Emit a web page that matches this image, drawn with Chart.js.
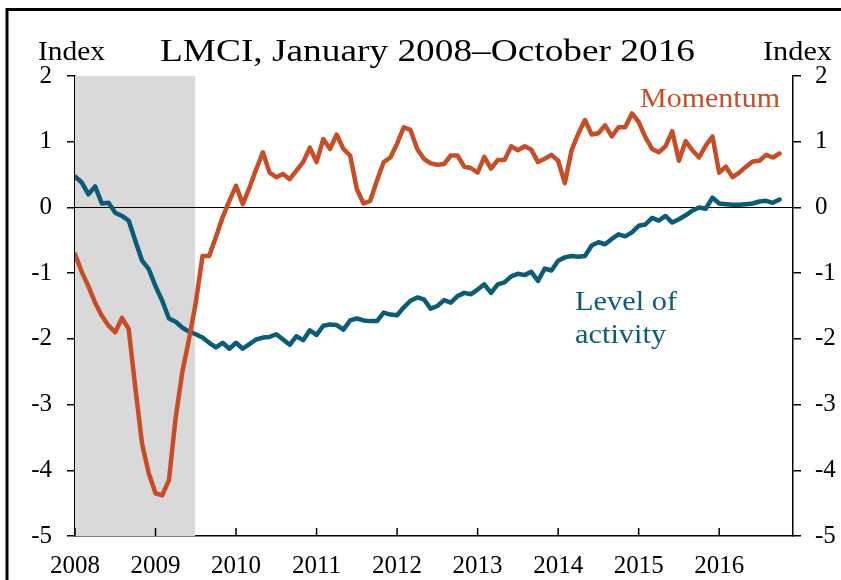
<!DOCTYPE html>
<html>
<head>
<meta charset="utf-8">
<script src="https://cdn.jsdelivr.net/npm/chart.js@4/dist/chart.umd.min.js"></script>
<style>
  html, body { margin: 0; padding: 0; background: #fff; }
  #wrap { width: 841px; height: 580px; position: relative; }
</style>
</head>
<body>
<div id="wrap"><canvas id="c" width="841" height="580"></canvas></div>
<script>
// ---- Data (monthly, January 2008 – October 2016) ----
const startYear = 2008;
const momentum = [
  -0.71, -0.98, -1.20, -1.45, -1.65, -1.80, -1.90, -1.68, -1.85, -2.75,
  -3.60, -4.05, -4.35, -4.38, -4.15, -3.20, -2.50, -2.00, -1.45, -0.74,
  -0.74, -0.45, -0.15, 0.10, 0.33, 0.05, 0.30, 0.58, 0.84, 0.53,
  0.46, 0.51, 0.43, 0.56, 0.69, 0.91, 0.69, 1.04, 0.89, 1.11,
  0.89, 0.79, 0.28, 0.06, 0.10, 0.41, 0.69, 0.76, 0.97, 1.22,
  1.18, 0.89, 0.74, 0.67, 0.65, 0.66, 0.79, 0.79, 0.62, 0.60,
  0.53, 0.77, 0.59, 0.72, 0.72, 0.93, 0.87, 0.93, 0.88, 0.69,
  0.74, 0.80, 0.71, 0.37, 0.87, 1.12, 1.33, 1.11, 1.13, 1.25,
  1.08, 1.22, 1.22, 1.43, 1.30, 1.07, 0.89, 0.84, 0.93, 1.16,
  0.71, 1.01, 0.87, 0.76, 0.94, 1.08, 0.53, 0.62, 0.46, 0.53,
  0.62, 0.70, 0.71, 0.80, 0.76, 0.82
];
const levelOfActivity = [
  0.47, 0.38, 0.20, 0.32, 0.06, 0.07, -0.08, -0.13, -0.20, -0.51,
  -0.81, -0.94, -1.20, -1.42, -1.69, -1.74, -1.83, -1.89, -1.93, -1.98,
  -2.06, -2.13, -2.06, -2.15, -2.06, -2.15, -2.08, -2.01, -1.98, -1.97,
  -1.93, -2.01, -2.09, -1.96, -2.02, -1.87, -1.94, -1.80, -1.78, -1.79,
  -1.86, -1.72, -1.69, -1.72, -1.73, -1.73, -1.60, -1.63, -1.64, -1.52,
  -1.42, -1.37, -1.40, -1.54, -1.50, -1.41, -1.45, -1.35, -1.30, -1.32,
  -1.25, -1.17, -1.30, -1.17, -1.14, -1.05, -1.01, -1.03, -0.98, -1.12,
  -0.93, -0.96, -0.81, -0.76, -0.74, -0.75, -0.74, -0.58, -0.53, -0.56,
  -0.48, -0.41, -0.44, -0.38, -0.28, -0.26, -0.16, -0.20, -0.13, -0.23,
  -0.18, -0.12, -0.05, 0.00, -0.02, 0.15, 0.06, 0.05, 0.04, 0.04,
  0.05, 0.06, 0.09, 0.10, 0.07, 0.12
];
const xTickYears = [2008, 2009, 2010, 2011, 2012, 2013, 2014, 2015, 2016];
const yTicks = [2, 1, 0, -1, -2, -3, -4, -5];
const recession = [0, 17.9]; // months since Jan 2008 (Jan 2008 – mid 2009)
const titleText = 'LMCI, January 2008\u2013October 2016';
const leftAxisLabel = 'Index';
const rightAxisLabel = 'Index';
const momentumLabel = 'Momentum';
const levelLabel = ['Level of', 'activity'];

const ORANGE = '#C84C24';
const TEAL = '#0A5C78';
const SERIF = '"Liberation Serif", "Times New Roman", serif';

const toPoints = arr => arr.map((v, i) => ({ x: i, y: v }));

// draw text horizontally stretched so that its left edge is at x and its width equals w
function stretchText(ctx, text, x, y, w, font, color, refText) {
  ctx.save();
  ctx.font = font;
  ctx.fillStyle = color;
  ctx.textAlign = 'left';
  ctx.textBaseline = 'alphabetic';
  const natural = ctx.measureText(refText || text).width;
  const sx = w / natural;
  ctx.translate(x, y);
  ctx.scale(sx, 1);
  ctx.fillText(text, 0, 0);
  ctx.restore();
}

const decorPlugin = {
  id: 'decor',
  beforeDatasetsDraw(chart) {
    const { ctx, chartArea: a, scales } = chart;
    const xs = scales.x, ys = scales.y;
    ctx.save();
    ctx.fillStyle = '#D9D9D9';
    const x0 = xs.getPixelForValue(recession[0]);
    const x1 = xs.getPixelForValue(recession[1]);
    ctx.fillRect(x0, a.top, x1 - x0, a.bottom - a.top);
    ctx.strokeStyle = '#000';
    ctx.lineWidth = 1;
    const y0 = Math.round(ys.getPixelForValue(0)) + 0.5;
    ctx.beginPath();
    ctx.moveTo(a.left, y0);
    ctx.lineTo(a.right, y0);
    ctx.stroke();
    ctx.restore();
  },
  afterDraw(chart) {
    const { ctx, chartArea: a, scales } = chart;
    const xs = scales.x;
    ctx.save();
    ctx.strokeStyle = '#000';
    ctx.lineWidth = 1.5;
    xTickYears.forEach(yr => {
      const px = xs.getPixelForValue((yr - startYear) * 12);
      ctx.beginPath();
      ctx.moveTo(px, a.bottom);
      ctx.lineTo(px, a.bottom - 8);
      ctx.stroke();
    });
    ctx.restore();

    stretchText(ctx, titleText, 160, 61, 535, '31px ' + SERIF, '#000');
    stretchText(ctx, leftAxisLabel, 38, 60, 67, '27px ' + SERIF, '#000');
    stretchText(ctx, rightAxisLabel, 763, 60, 69, '27px ' + SERIF, '#000');
    stretchText(ctx, momentumLabel, 640, 107, 140, '27px ' + SERIF, ORANGE);
    stretchText(ctx, levelLabel[0], 575, 310, 102, '27px ' + SERIF, TEAL);
    stretchText(ctx, levelLabel[1], 575, 343, 102, '27px ' + SERIF, TEAL, levelLabel[0]);

    ctx.save();
    ctx.strokeStyle = '#000';
    ctx.lineWidth = 3;
    ctx.beginPath();
    ctx.moveTo(841, 9.5);
    ctx.lineTo(7, 9.5);
    ctx.lineTo(7, 580);
    ctx.stroke();
    ctx.restore();
  }
};

const tickFont = { family: SERIF, size: 25 };

new Chart(document.getElementById('c'), {
  type: 'line',
  data: {
    datasets: [
      { label: momentumLabel, data: toPoints(momentum), borderColor: ORANGE, borderWidth: 4.5,
        pointRadius: 0, tension: 0, borderJoinStyle: 'round', borderCapStyle: 'round', yAxisID: 'y' },
      { label: 'Level of activity', data: toPoints(levelOfActivity), borderColor: TEAL, borderWidth: 4.5,
        pointRadius: 0, tension: 0, borderJoinStyle: 'round', borderCapStyle: 'round', yAxisID: 'y' }
    ]
  },
  options: {
    responsive: false,
    animation: false,
    layout: { padding: { top: 76, left: 0, right: 0, bottom: 0 } },
    plugins: { legend: { display: false }, tooltip: { enabled: false }, title: { display: false } },
    scales: {
      x: {
        type: 'linear', min: 0, max: 107, position: 'bottom',
        afterFit: s => { s.height = 44; },
        grid: { display: false, drawTicks: false },
        border: { display: true, color: '#000', width: 1.5 },
        ticks: {
          stepSize: 12, autoSkip: false, maxRotation: 0, padding: 15,
          font: tickFont, color: '#000',
          callback: v => (v % 12 === 0 && xTickYears.includes(startYear + v / 12)) ? String(startYear + v / 12) : ''
        }
      },
      y: {
        position: 'left', min: -5, max: 2,
        afterFit: s => { s.width = 75; },
        grid: { display: true, drawOnChartArea: false, drawTicks: true, tickLength: 8, color: '#000', lineWidth: 1.5 },
        border: { display: true, color: '#000', width: 1.5 },
        ticks: { stepSize: 1, padding: 15, font: tickFont, color: '#000',
                 callback: v => yTicks.includes(v) ? String(v) : '' }
      },
      y2: {
        position: 'right', min: -5, max: 2,
        afterFit: s => { s.width = 48; },
        grid: { display: true, drawOnChartArea: false, drawTicks: true, tickLength: 8, color: '#000', lineWidth: 1.5 },
        border: { display: true, color: '#000', width: 1.5 },
        ticks: { stepSize: 1, padding: 14, font: tickFont, color: '#000',
                 callback: v => yTicks.includes(v) ? String(v) : '' }
      }
    }
  },
  plugins: [decorPlugin]
});
</script>
</body>
</html>
